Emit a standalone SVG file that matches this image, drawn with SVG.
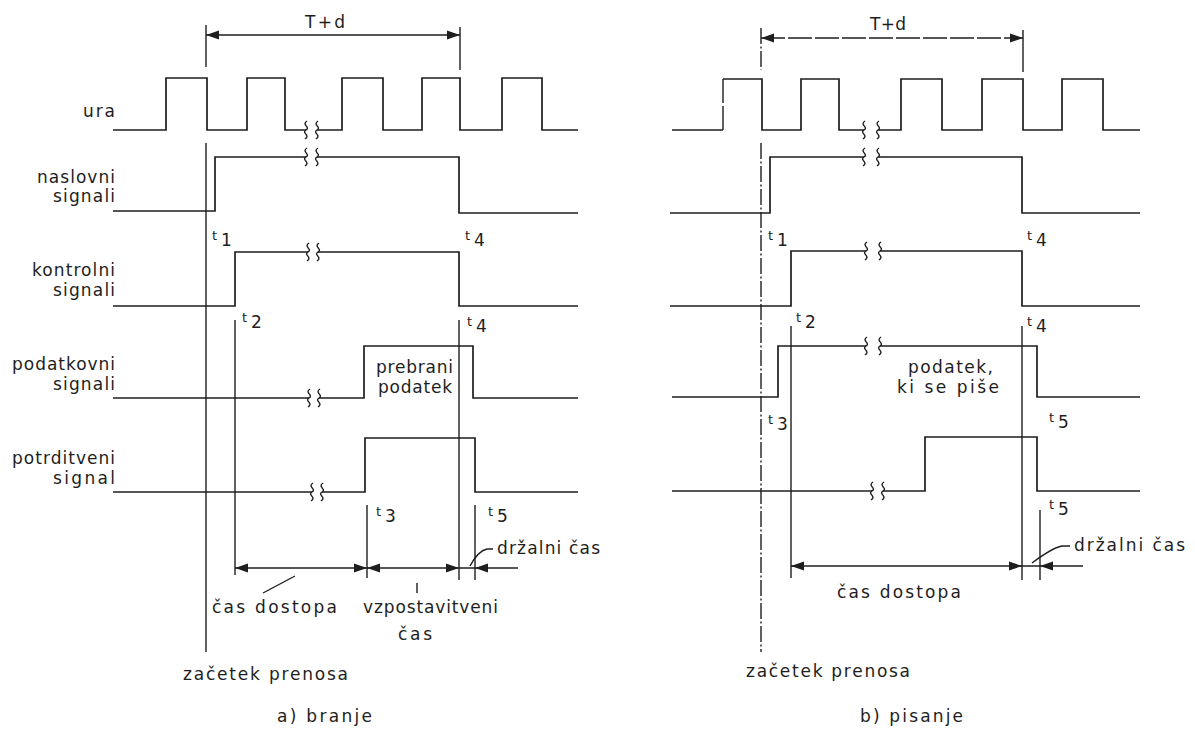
<svg xmlns="http://www.w3.org/2000/svg" xmlns:xlink="http://www.w3.org/1999/xlink" width="1195" height="731" viewBox="0 0 1195 731">
<style>
.sig{fill:none;stroke:#1e1e1e;stroke-width:1.7;stroke-linejoin:miter}
.ln{fill:none;stroke:#1e1e1e;stroke-width:1.4}
.dash{fill:none;stroke:#1e1e1e;stroke-width:1.4;stroke-dasharray:16 2.5 2 2.5}
.dash2{fill:none;stroke:#1e1e1e;stroke-width:1.4;stroke-dasharray:24 3}
.br{fill:none;stroke:#1e1e1e;stroke-width:1.4}
text{font-family:"DejaVu Sans","Liberation Sans",sans-serif;font-size:17px;fill:#1e1e1e}
.t{font-size:13px}
.ah{fill:#1e1e1e}
</style>
<defs>
<path id="ah" d="M0,0 L-13,-4.5 L-13,4.5 Z"/>
<path id="sq" d="M1,-9 C-5,-5 5,-3 0,0 C-5,3 5,5 -1,9"/>
</defs>
<rect width="1195" height="731" fill="#ffffff"/>

<!-- ============ LEFT: a) branje ============ -->
<g id="labels-left">
<text x="83" y="117" textLength="32" lengthAdjust="spacing">ura</text>
<text x="37" y="183" textLength="78" lengthAdjust="spacing">naslovni</text>
<text x="53" y="202" textLength="62" lengthAdjust="spacing">signali</text>
<text x="32" y="276" textLength="83" lengthAdjust="spacing">kontrolni</text>
<text x="53" y="296" textLength="62" lengthAdjust="spacing">signali</text>
<text x="12" y="370" textLength="103" lengthAdjust="spacing">podatkovni</text>
<text x="53" y="390" textLength="62" lengthAdjust="spacing">signali</text>
<text x="12" y="464" textLength="103" lengthAdjust="spacing">potrditveni</text>
<text x="53" y="484" textLength="62" lengthAdjust="spacing">signal</text>
</g>

<g id="a-ura">
<path class="sig" d="M113,130 H166 V78 H207 V130 H247 V78 H285 V130 H306"/>
<path class="sig" d="M317,130 H342 V78 H383 V130 H422 V78 H460 V130 H502 V78 H542 V130 H578"/>
<use href="#sq" class="br" transform="translate(306,130)"/>
<use href="#sq" class="br" transform="translate(317,130)"/>
</g>
<g id="a-naslovni">
<path class="sig" d="M113,211 H215 V157 H306"/>
<path class="sig" d="M317,157 H459 V213 H578"/>
<use href="#sq" class="br" transform="translate(306,157)"/>
<use href="#sq" class="br" transform="translate(317,157)"/>
</g>
<g id="a-kontrolni">
<path class="sig" d="M113,306 H235 V252 H308"/>
<path class="sig" d="M318,252 H459 V306 H578"/>
<use href="#sq" class="br" transform="translate(308,252)"/>
<use href="#sq" class="br" transform="translate(318,252)"/>
</g>
<g id="a-podatkovni">
<path class="sig" d="M113,398 H309"/>
<path class="sig" d="M319,398 H364 V346 H473 V398 H578"/>
<use href="#sq" class="br" transform="translate(309,398)"/>
<use href="#sq" class="br" transform="translate(319,398)"/>
<text x="376" y="373" textLength="77" lengthAdjust="spacing">prebrani</text>
<text x="378" y="393" textLength="74" lengthAdjust="spacing">podatek</text>
</g>
<g id="a-potrditveni">
<path class="sig" d="M113,492 H312"/>
<path class="sig" d="M322,492 H365 V438 H475 V492 H578"/>
<use href="#sq" class="br" transform="translate(312,492)"/>
<use href="#sq" class="br" transform="translate(322,492)"/>
</g>

<g id="a-connectors">
<line class="ln" x1="206" y1="25" x2="206" y2="67"/>
<line class="ln" x1="460" y1="27" x2="460" y2="70"/>
<line class="ln" x1="206" y1="35" x2="460" y2="35"/>
<use href="#ah" class="ah" transform="translate(206,35) rotate(180)"/>
<use href="#ah" class="ah" transform="translate(460,35)"/>
<line class="ln" x1="206" y1="143" x2="206" y2="652"/>
<line class="ln" x1="235" y1="320" x2="235" y2="575"/>
<line class="ln" x1="459" y1="320" x2="459" y2="580"/>
<line class="ln" x1="367" y1="505" x2="367" y2="578"/>
<line class="ln" x1="475" y1="505" x2="475" y2="580"/>
<line class="ln" x1="235" y1="568" x2="518" y2="568"/>
<use href="#ah" class="ah" transform="translate(235,568) rotate(180)"/>
<use href="#ah" class="ah" transform="translate(367,568)"/>
<use href="#ah" class="ah" transform="translate(367,568) rotate(180)"/>
<use href="#ah" class="ah" transform="translate(459,568)"/>
<use href="#ah" class="ah" transform="translate(475,568) rotate(180)"/>
<line class="ln" x1="263" y1="593" x2="295" y2="576"/>
<line class="ln" x1="417" y1="583" x2="417" y2="593"/>
<path class="ln" d="M493,549 H487 Q478,551 470,566"/>
</g>

<g id="a-texts">
<text x="305" y="28" textLength="40" lengthAdjust="spacing">T+d</text>
<text class="t" x="212" y="240">t</text><text x="221" y="246">1</text>
<text class="t" x="465" y="240">t</text><text x="474" y="246">4</text>
<text class="t" x="242" y="322">t</text><text x="251" y="328">2</text>
<text class="t" x="467" y="326">t</text><text x="476" y="332">4</text>
<text class="t" x="376" y="516">t</text><text x="385" y="522">3</text>
<text class="t" x="488" y="516">t</text><text x="497" y="522">5</text>
<text x="497" y="554" textLength="103" lengthAdjust="spacing">držalni čas</text>
<text x="212" y="613" textLength="125" lengthAdjust="spacing">čas dostopa</text>
<text x="363" y="613" textLength="135" lengthAdjust="spacing">vzpostavitveni</text>
<text x="398" y="640" textLength="34" lengthAdjust="spacing">čas</text>
<text x="183" y="680" textLength="165" lengthAdjust="spacing">začetek prenosa</text>
<text x="277" y="722" textLength="95" lengthAdjust="spacing">a) branje</text>
</g>

<!-- ============ RIGHT: b) pisanje ============ -->
<g id="b-ura">
<path class="sig" d="M672,130 H723"/>
<line class="dash2" x1="723" y1="130" x2="723" y2="79"/>
<path class="sig" d="M723,79 H762 V130 H801 V79 H839 V130 H864"/>
<path class="sig" d="M878,130 H901 V79 H942 V130 H982 V79 H1023 V130 H1062 V79 H1103 V130 H1140"/>
<use href="#sq" class="br" transform="translate(864,130)"/>
<use href="#sq" class="br" transform="translate(878,130)"/>
</g>
<g id="b-naslovni">
<path class="sig" d="M670,213 H770 V157 H864"/>
<path class="sig" d="M878,157 H1022 V213 H1140"/>
<use href="#sq" class="br" transform="translate(864,157)"/>
<use href="#sq" class="br" transform="translate(878,157)"/>
</g>
<g id="b-kontrolni">
<path class="sig" d="M670,306 H791 V251 H866"/>
<path class="sig" d="M880,251 H1022 V306 H1140"/>
<use href="#sq" class="br" transform="translate(866,251)"/>
<use href="#sq" class="br" transform="translate(880,251)"/>
</g>
<g id="b-podatkovni">
<path class="sig" d="M672,397 H778 V346 H866"/>
<path class="sig" d="M880,346 H1037 V397 H1140"/>
<use href="#sq" class="br" transform="translate(866,346)"/>
<use href="#sq" class="br" transform="translate(880,346)"/>
<text x="908" y="373" textLength="85" lengthAdjust="spacing">podatek,</text>
<text x="897" y="393" textLength="102" lengthAdjust="spacing">ki se piše</text>
</g>
<g id="b-potrditveni">
<path class="sig" d="M672,491 H872"/>
<path class="sig" d="M883,491 H925 V437 H1037 V491 H1140"/>
<use href="#sq" class="br" transform="translate(872,491)"/>
<use href="#sq" class="br" transform="translate(883,491)"/>
</g>

<g id="b-connectors">
<line class="dash" x1="761" y1="28" x2="761" y2="70"/>
<line class="ln" x1="1023" y1="30" x2="1023" y2="72"/>
<line class="dash2" x1="761" y1="38" x2="1023" y2="38"/>
<use href="#ah" class="ah" transform="translate(761,38) rotate(180)"/>
<use href="#ah" class="ah" transform="translate(1023,38)"/>
<line class="dash" x1="761" y1="143" x2="761" y2="652"/>
<line class="ln" x1="791" y1="326" x2="791" y2="578"/>
<line class="ln" x1="1022" y1="326" x2="1022" y2="580"/>
<line class="ln" x1="1040" y1="510" x2="1040" y2="580"/>
<line class="ln" x1="791" y1="566" x2="1083" y2="566"/>
<use href="#ah" class="ah" transform="translate(791,566) rotate(180)"/>
<use href="#ah" class="ah" transform="translate(1022,566)"/>
<use href="#ah" class="ah" transform="translate(1040,566) rotate(180)"/>
<path class="ln" d="M1070,546 H1062 Q1052,548 1032,563"/>
</g>

<g id="b-texts">
<text x="870" y="30" textLength="36" lengthAdjust="spacing">T+d</text>
<text class="t" x="768" y="240">t</text><text x="777" y="246">1</text>
<text class="t" x="1027" y="240">t</text><text x="1036" y="246">4</text>
<text class="t" x="796" y="322">t</text><text x="805" y="328">2</text>
<text class="t" x="1027" y="326">t</text><text x="1036" y="332">4</text>
<text class="t" x="768" y="424">t</text><text x="777" y="430">3</text>
<text class="t" x="1049" y="422">t</text><text x="1058" y="428">5</text>
<text class="t" x="1049" y="509">t</text><text x="1058" y="515">5</text>
<text x="1074" y="551" textLength="111" lengthAdjust="spacing">držalni čas</text>
<text x="837" y="598" textLength="124" lengthAdjust="spacing">čas dostopa</text>
<text x="746" y="677" textLength="164" lengthAdjust="spacing">začetek prenosa</text>
<text x="860" y="722" textLength="103" lengthAdjust="spacing">b) pisanje</text>
</g>
</svg>
